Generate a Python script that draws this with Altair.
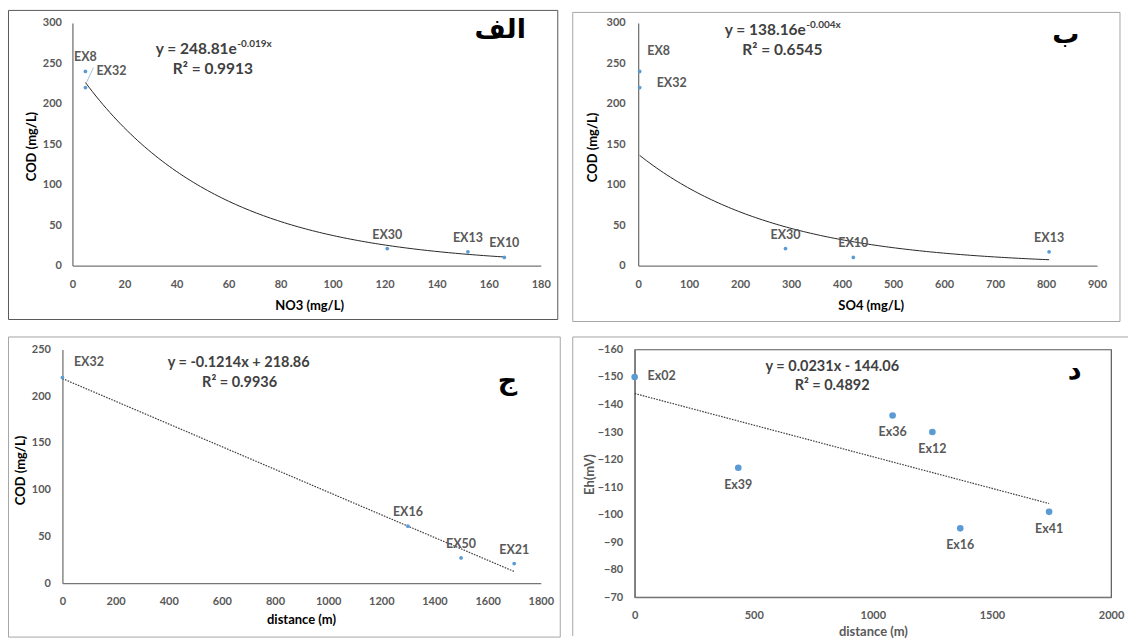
import altair as alt
import pandas as pd

# ---------------- data ----------------
# الف : COD vs NO3
a_names = ["EX8", "EX32", "EX30", "EX13", "EX10"]
a_no3 = [5, 5, 121, 152, 166]
a_cod = [240, 220, 21, 17, 10]
# ب : COD vs SO4
b_names = ["EX8", "EX32", "EX30", "EX10", "EX13"]
b_so4 = [3, 3, 289, 422, 806]
b_cod = [240, 220, 21, 10, 17]
# ج : COD vs distance
c_names = ["EX32", "EX16", "EX50", "EX21"]
c_dist = [0, 1300, 1500, 1700]
c_cod = [220, 61, 27, 21]
# د : Eh vs distance
d_names = ["Ex02", "Ex39", "Ex36", "Ex12", "Ex16", "Ex41"]
d_dist = [0, 435, 1083, 1250, 1367, 1740]
d_eh = [-150, -117, -136, -130, -95, -101]

# tick labels
a_xticks = [0, 20, 40, 60, 80, 100, 120, 140, 160, 180]
a_yticks = [0, 50, 100, 150, 200, 250, 300]
b_xticks = [0, 100, 200, 300, 400, 500, 600, 700, 800, 900]
b_yticks = [0, 50, 100, 150, 200, 250, 300]
c_xticks = [0, 200, 400, 600, 800, 1000, 1200, 1400, 1600, 1800]
c_yticks = [0, 50, 100, 150, 200, 250]
d_xticks = [0, 500, 1000, 1500, 2000]
d_yticks = [-160, -150, -140, -130, -120, -110, -100, -90, -80, -70]

# texts
a_eq = ["y = 248.81e", "-0.019x", "R² = 0.9913"]
b_eq = ["y = 138.16e", "-0.004x", "R² = 0.6545"]
c_eq = ["y = -0.1214x + 218.86", "R² = 0.9936"]
d_eq = ["y = 0.0231x - 144.06", "R² = 0.4892"]
letters = ["الف", "ب", "ج", "د"]
titles = ["NO3 (mg/L)", "SO4 (mg/L)", "distance (m)", "COD (mg/L)", "Eh(mV)"]

FONT = "Lato"
BLUE = "#5b9bd5"
EQ_COLOR = "#404040"
LBL_COLOR = "#595959"

dfa = pd.DataFrame({"name": a_names, "x": a_no3, "y": a_cod})
dfb = pd.DataFrame({"name": b_names, "x": b_so4, "y": b_cod})
dfc = pd.DataFrame({"name": c_names, "x": c_dist, "y": c_cod})
dfd = pd.DataFrame({"name": d_names, "x": d_dist, "y": d_eh})
one = pd.DataFrame({"k": [0]})


def enc(sx, sy, ax, ay):
    return dict(x=alt.X("x:Q", scale=sx, axis=ax), y=alt.Y("y:Q", scale=sy, axis=ay))


def frame(x1, y1, x2, y2, color):
    return alt.Chart(one).mark_rect(fill="white", fillOpacity=0, stroke=color, strokeWidth=1).encode(
        x=alt.value(x1), x2=alt.value(x2), y=alt.value(y1), y2=alt.value(y2))


def exp_trend(df, e):
    return (alt.Chart(df)
            .transform_calculate(lny="log(datum.y)")
            .transform_joinaggregate(xmin="min(x)", xmax="max(x)")
            .transform_regression("x", "lny", params=True, groupby=["xmin", "xmax"])
            .transform_calculate(
                lo="isValid(datum.xmin) ? datum.xmin : datum.keys[0]",
                hi="isValid(datum.xmax) ? datum.xmax : datum.keys[1]")
            .transform_calculate(xs="sequence(datum.lo, datum.hi + 0.000001, (datum.hi - datum.lo) / 120)")
            .transform_flatten(["xs"])
            .transform_calculate(x="datum.xs", y="exp(datum.coef[0] + datum.coef[1] * datum.xs)")
            .mark_line(color="#262626", strokeWidth=1)
            .encode(**e))


def lin_trend(df, e):
    return (alt.Chart(df).transform_regression("x", "y")
            .mark_line(color="#404040", strokeWidth=1.2, strokeDash=[1.6, 1.2])
            .encode(**e))


def points(df, e, size):
    return alt.Chart(df).mark_circle(size=size, color=BLUE, opacity=1).encode(**e)


def labels(df, e, names, **kw):
    return (alt.Chart(df).transform_filter(alt.FieldOneOfPredicate(field="name", oneOf=names))
            .mark_text(font=FONT, fontSize=12.5, fontWeight="bold", color=LBL_COLOR, **kw)
            .encode(text="name:N", **e))


def note(e, x, y, t, **kw):
    return alt.Chart(pd.DataFrame({"x": [x], "y": [y], "t": [t]})).mark_text(**kw).encode(text="t:N", **e)


def eq_kw(**kw):
    d = dict(font=FONT, fontSize=14.5, fontWeight="bold", color=EQ_COLOR)
    d.update(kw)
    return d


letter_kw = dict(font="DejaVu Sans", fontSize=27, fontWeight="bold", color="black")

# ---------------- panel الف ----------------
ea = enc(alt.Scale(domain=[0, 180], range=[10, 479], nice=False, zero=False),
         alt.Scale(domain=[0, 300], nice=False, zero=False),
         alt.Axis(values=a_xticks, format="d", title=titles[0], labelPadding=13, titleX=247, titleY=39.5),
         alt.Axis(values=a_yticks, format="d", title=titles[3], labelPadding=11, offset=-10,
                  titleX=-41.3, titleY=123.3))
pa = alt.layer(
    frame(-54, -12.5, 496, 297, "#595959"),
    exp_trend(dfa, ea),
    alt.Chart(dfa).transform_filter(alt.datum.name == "EX32").mark_rule(
        color="#9dc3e6", strokeWidth=1, xOffset=1, yOffset=-5, x2Offset=8, y2Offset=-20).encode(
        x2="x", y2="y", **ea),
    points(dfa, ea, 14),
    labels(dfa, ea, ["EX8", "EX30", "EX13", "EX10"], dy=-14),
    labels(dfa, ea, ["EX32"], dx=26, dy=-17),
    note(ea, 63.2, 267.3, a_eq[0], **eq_kw(align="right", fontSize=15.5)),
    note(ea, 63.2, 267.3, a_eq[1], **eq_kw(align="left", fontSize=10, dy=-5.5, dx=0.5)),
    note(ea, 54.0, 243.5, a_eq[2], **eq_kw(fontSize=15.5)),
    note(ea, 164.4, 290.7, letters[0], **letter_kw),
).properties(width=479, height=243)

# ---------------- panel ب ----------------
eb = enc(alt.Scale(domain=[0, 900], range=[3.5, 463], nice=False, zero=False),
         alt.Scale(domain=[0, 300], nice=False, zero=False),
         alt.Axis(values=b_xticks, format="d", title=titles[1], labelPadding=12.5, titleX=236.4, titleY=39.5),
         alt.Axis(values=b_yticks, format="d", title=titles[3], labelPadding=13, offset=-3.5,
                  titleX=-45.4, titleY=124.2))
pb = alt.layer(
    frame(-62, -10.5, 486, 299, "#a6a6a6"),
    exp_trend(dfb, eb),
    points(dfb, eb, 14),
    labels(dfb, eb, ["EX30", "EX10", "EX13"], dy=-14),
    labels(dfb, eb, ["EX8"], dx=19, dy=-20),
    labels(dfb, eb, ["EX32"], dx=32, dy=-5),
    note(eb, 328.9, 291.6, b_eq[0], **eq_kw(align="right", fontSize=15.5)),
    note(eb, 328.9, 291.6, b_eq[1], **eq_kw(align="left", fontSize=10, dy=-5, dx=0.5)),
    note(eb, 282.8, 266.9, b_eq[2], **eq_kw(fontSize=15.5)),
    note(eb, 838.9, 285.0, letters[1], **letter_kw),
).properties(width=463, height=243)

# ---------------- panel ج ----------------
ec = enc(alt.Scale(domain=[0, 1800], nice=False, zero=False),
         alt.Scale(domain=[0, 250], nice=False, zero=False),
         alt.Axis(values=c_xticks, format="d", title=titles[2], labelPadding=12, titleX=238.9, titleY=36.8),
         alt.Axis(values=c_yticks, format="d", title=titles[3], labelPadding=12, titleX=-42.1, titleY=120.7))
pc = alt.layer(
    frame(-54, -12.5, 498.5, 288, "#a6a6a6"),
    lin_trend(dfc, ec),
    points(dfc, ec, 14),
    labels(dfc, ec, ["EX16", "EX50", "EX21"], dy=-14),
    labels(dfc, ec, ["EX32"], dx=26.5, dy=-15.6),
    note(ec, 663.3, 235.9, c_eq[0], **eq_kw()),
    note(ec, 666.7, 214.5, c_eq[1], **eq_kw()),
    note(ec, 1675, 216.3, letters[2], **letter_kw),
).properties(width=479, height=234)

# ---------------- panel د ----------------
ed = enc(alt.Scale(domain=[0, 2000], nice=False, zero=False),
         alt.Scale(domain=[-160, -70], reverse=True, nice=False, zero=False),
         alt.Axis(values=d_xticks, format="d", title=titles[2], labelPadding=12, titleX=238.6, titleY=34.2,
                  titleColor="#595959"),
         alt.Axis(values=d_yticks, format="d", title=titles[4], labelPadding=12, titleX=-45.5, titleY=124.8,
                  titleColor="#595959"))
pd_ = alt.layer(
    alt.Chart(one).mark_rule(color="#a6a6a6", strokeWidth=1).encode(
        x=alt.value(-62), y=alt.value(-12.5), y2=alt.value(287)),
    alt.Chart(one).mark_rule(color="#a6a6a6", strokeWidth=1).encode(
        x=alt.value(-62), x2=alt.value(494), y=alt.value(-12.5)),
    lin_trend(dfd, ed),
    points(dfd, ed, 44),
    labels(dfd, ed, ["Ex39", "Ex36", "Ex12", "Ex16", "Ex41"], dy=17),
    labels(dfd, ed, ["Ex02"], dx=27, dy=-1),
    note(ed, 829.8, -153.8, d_eq[0], **eq_kw()),
    note(ed, 829.0, -146.8, d_eq[1], **eq_kw()),
    note(ed, 1847.4, -152.2, letters[3], **letter_kw),
).properties(width=477, height=248, view=alt.ViewBackground(stroke="#595959", strokeWidth=1.2))

chart = alt.concat(pa, pb, pc, pd_, columns=2, spacing={"row": 13, "column": 10}).properties(
    align="each", bounds="full",
    padding={"left": 7.5, "top": 9.5, "right": 0, "bottom": 0},
    background="white",
    autosize=alt.AutoSizeParams(type="pad"),
).configure_view(strokeWidth=0).configure_axis(
    grid=False, ticks=False, domainColor="#767676", domainWidth=1.3,
    labelFont=FONT, labelFontSize=11, labelFontWeight="bold", labelColor="#595959",
    titleFont=FONT, titleFontSize=13, titleFontWeight="bold", titleColor="black",
    labelFlush=False, labelOverlap=False, titleAlign="center", titleBaseline="middle",
)

chart.save("out.html", embed_options={"renderer": "svg", "actions": False})
